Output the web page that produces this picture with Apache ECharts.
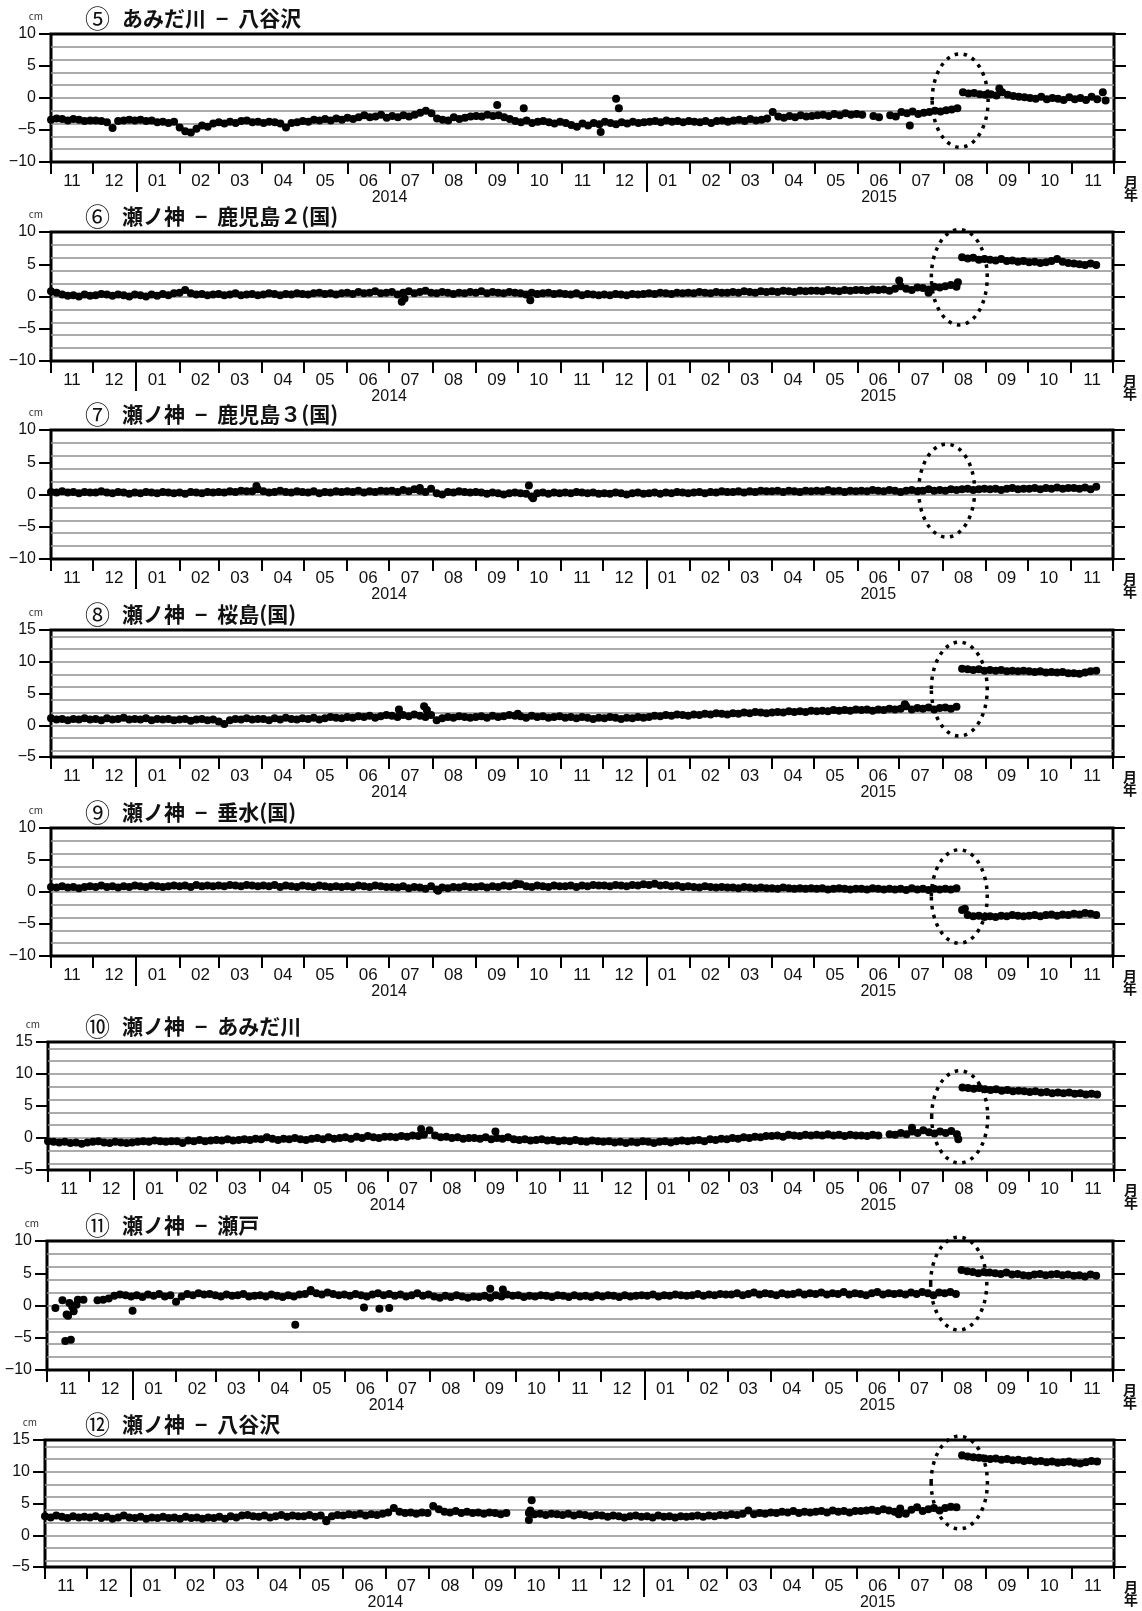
<!DOCTYPE html>
<html>
<head>
<meta charset="utf-8">
<script src="https://cdn.jsdelivr.net/npm/echarts@6/dist/echarts.min.js"></script>
<style>
  html, body { margin: 0; padding: 0; background: #fff; }
  #chart { width: 1142px; height: 1611px; }
</style>
</head>
<body>
<div id="chart"></div>
<script>
// ---- data (cm), one sample every 4 days starting 2013-11-01 ----
const startDate = "2013-11-01";
const endDate = "2015-12-01";
const sampleStep = 4;

const titleNums = ["⑤", "⑥", "⑦", "⑧", "⑨", "⑩", "⑪", "⑫"];
const titlePairs = [
  ["あみだ川", "八谷沢"],
  ["瀬ノ神", "鹿児島２(国)"],
  ["瀬ノ神", "鹿児島３(国)"],
  ["瀬ノ神", "桜島(国)"],
  ["瀬ノ神", "垂水(国)"],
  ["瀬ノ神", "あみだ川"],
  ["瀬ノ神", "瀬戸"],
  ["瀬ノ神", "八谷沢"],
];
const yRanges = [[-10, 10], [-10, 10], [-10, 10], [-5, 15], [-10, 10], [-5, 15], [-10, 10], [-5, 15]];
const gridValuesA = [-8, -6, -4, -2, 0, 2, 4, 6, 8];
const gridValuesB = [-4, -2, 0, 2, 4, 6, 8, 10, 12, 14];
const yearLabels = [["2014-07-01", "2014"], ["2015-06-16", "2015"]];

// rows: Nov13 Dec Jan14 Feb Mar Apr May Jun Jul Aug Sep Oct Nov Dec Jan15 Feb Mar Apr May Jun Jul Aug Sep Oct Nov
const amidaYatanisawa = [
  -3.4, -3.2, -3.3, -3.5, -3.3, -3.4, -3.6, -3.5,
  -3.5, -3.6, -3.8, -4.7, -3.6, -3.5, -3.4, -3.5,
  -3.4, -3.6, -3.5, -3.8, -3.7, -3.9, -3.7,
  -4.6, -5.2, -5.4, -4.8, -4.3, -4.5, -4.0,
  -3.8, -4.0, -3.7, -3.9, -3.6, -3.5, -3.8, -3.7,
  -3.9, -3.7, -3.8, -4.0, -4.6, -3.9, -3.8, -3.6,
  -3.7, -3.4, -3.5, -3.3, -3.5, -3.2, -3.4,
  -3.1, -3.3, -3.0, -2.7, -3.0, -2.9, -2.6, -3.1,
  -2.8, -3.0, -2.7, -2.9, -2.6, -2.3, -2.0, -2.4,
  -3.2, -3.4, -3.5, -3.0, -3.3, -3.1, -2.9,
  -2.8, -2.9, -2.6, -2.8, -2.7, -3.0, -3.3, -3.6,
  -3.8, -3.5, -3.9, -3.7, -3.6, -3.8, -4.0, -3.7,
  -3.9, -4.2, -4.5, -4.0, -4.3, -3.9, -4.1,
  -3.7, -3.9, -4.1, -3.8, -4.0, -3.7, -3.9, -3.8,
  -3.7, -3.6, -3.8, -3.5, -3.7, -3.6, -3.8, -3.6,
  -3.7, -3.8, -3.6, -3.9, -3.6, -3.5, -3.7,
  -3.5, -3.4, -3.6, -3.3, -3.5, -3.4, -3.2,
  -2.2, -2.9, -3.1, -2.8, -3.0, -2.7, -2.9, -2.8,
  -2.7, -2.6, -2.8, -2.5, -2.7, -2.4, -2.6, -2.5,
  -2.6, null, -2.8, -3.0, null, -2.7, -2.9,
  -2.2, -2.4, -2.1, -2.5, -2.3, -2.2, -2.0, -2.1,
  -1.9, -1.8, -1.6, 0.9, 0.7, 0.8, 0.6, 0.5,
  0.6, 0.4, 0.9, 0.5, 0.3, 0.2, 0.1,
  0.0, -0.1, 0.2, -0.2, 0.0, -0.1, -0.3, 0.1,
  -0.2, 0.0, -0.3, 0.2, -0.2,
];
const amidaYatanisawaExtra = [
  ["2014-09-16", -1.1], ["2014-10-05", -1.6], ["2014-11-29", -5.3],
  ["2014-12-10", -0.1], ["2014-12-12", -1.6], ["2015-07-08", -4.3],
  ["2015-09-10", 1.5], ["2015-11-23", 0.9], ["2015-11-25", -0.4],
];

const senokamiKagoshima2 = [
  0.8, 0.6, 0.3, 0.1, 0.2, 0.0, 0.3, 0.1,
  0.2, 0.4, 0.3, 0.1, 0.3, 0.2, 0.0, 0.3,
  0.2, 0.0, 0.3, 0.1, 0.4, 0.2, 0.5,
  0.6, 1.0, 0.5, 0.3, 0.4, 0.2, 0.3,
  0.4, 0.2, 0.3, 0.5, 0.2, 0.3, 0.4, 0.2,
  0.3, 0.5, 0.4, 0.2, 0.4, 0.3, 0.5, 0.4,
  0.3, 0.5, 0.6, 0.4, 0.5, 0.3, 0.5,
  0.6, 0.4, 0.7, 0.5, 0.6, 0.8, 0.5, 0.6,
  0.7, 0.3, 0.6, 0.8, 0.5, 0.7, 0.9, 0.6,
  0.5, 0.7, 0.6, 0.4, 0.6, 0.5, 0.7,
  0.6, 0.8, 0.5, 0.7, 0.6, 0.5, 0.7, 0.6,
  0.5, 0.3, 0.6, 0.4, 0.5, 0.6, 0.4, 0.5,
  0.4, 0.3, 0.5, 0.2, 0.4, 0.3, 0.2,
  0.3, 0.2, 0.4, 0.3, 0.2, 0.4, 0.3, 0.4,
  0.5, 0.4, 0.6, 0.5, 0.4, 0.6, 0.5, 0.6,
  0.5, 0.7, 0.6, 0.5, 0.7, 0.6, 0.6,
  0.7, 0.6, 0.8, 0.7, 0.6, 0.8, 0.7,
  0.8, 0.7, 0.9, 0.8, 0.7, 0.9, 0.8, 0.9,
  0.9, 0.8, 1.0, 0.9, 0.8, 1.0, 0.9, 1.0,
  1.0, 0.9, 1.1, 1.0, 1.1, 0.9, 1.2,
  1.6, 1.2, 1.0, 1.4, 1.3, 1.1, 1.5, 1.4,
  1.6, 1.8, 1.5, 6.1, 5.9, 6.0, 5.7, 5.8,
  5.7, 5.6, 5.8, 5.5, 5.6, 5.4, 5.5,
  5.3, 5.4, 5.2, 5.3, 5.5, 5.8, 5.4, 5.2,
  5.1, 5.0, 4.9, 5.1, 4.9,
];
const senokamiKagoshima2Extra = [
  ["2014-07-10", -0.8], ["2014-07-12", -0.3], ["2014-10-10", -0.6],
  ["2015-07-01", 2.5], ["2015-07-22", 0.6], ["2015-08-12", 2.2],
];

const senokamiKagoshima3 = [
  0.4, 0.3, 0.5, 0.3, 0.4, 0.2, 0.4, 0.3,
  0.3, 0.5, 0.3, 0.2, 0.4, 0.3, 0.1, 0.3,
  0.2, 0.4, 0.3, 0.2, 0.4, 0.3, 0.2,
  0.3, 0.1, 0.4, 0.3, 0.2, 0.4, 0.3,
  0.4, 0.3, 0.5, 0.4, 0.6, 0.5, 0.5, 0.8,
  0.5, 0.3, 0.4, 0.6, 0.4, 0.3, 0.5, 0.4,
  0.3, 0.5, 0.2, 0.4, 0.3, 0.5, 0.4,
  0.5, 0.4, 0.6, 0.3, 0.5, 0.4, 0.6, 0.5,
  0.6, 0.4, 0.7, 0.5, 0.8, 0.6, 0.4, 0.9,
  0.2, 0.0, 0.4, 0.3, 0.5, 0.4, 0.3,
  0.4, 0.3, 0.1, 0.3, 0.2, 0.0, 0.2, 0.3,
  0.2, 0.1, -0.3, 0.2, 0.3, 0.1, 0.3, 0.2,
  0.3, 0.2, 0.4, 0.3, 0.2, 0.3, 0.1,
  0.2, 0.1, 0.3, 0.2, 0.0, 0.2, 0.3, 0.1,
  0.2, 0.3, 0.1, 0.3, 0.2, 0.4, 0.3, 0.2,
  0.3, 0.4, 0.2, 0.4, 0.3, 0.5, 0.4,
  0.4, 0.5, 0.3, 0.5, 0.4, 0.6, 0.5,
  0.5, 0.6, 0.4, 0.6, 0.5, 0.4, 0.6, 0.5,
  0.6, 0.5, 0.7, 0.5, 0.6, 0.4, 0.6, 0.5,
  0.6, 0.5, 0.7, 0.6, 0.5, 0.7, 0.6,
  0.4, 0.6, 0.7, 0.5, 0.6, 0.8, 0.6, 0.7,
  0.6, 0.8, 0.7, 0.8, 0.9, 0.7, 0.8, 0.9,
  0.8, 0.9, 0.7, 0.9, 1.0, 0.8, 0.9,
  0.9, 1.0, 0.8, 1.0, 0.9, 1.1, 0.9, 1.0,
  1.0, 0.9, 1.1, 0.8, 1.2,
];
const senokamiKagoshima3Extra = [
  ["2014-03-28", 1.3], ["2014-07-23", 1.0], ["2014-10-09", 1.4], ["2014-10-12", -0.6],
];

const senokamiSakurajima = [
  1.1, 0.9, 1.0, 0.8, 1.0, 0.9, 1.1, 0.9,
  1.0, 0.8, 1.1, 0.9, 1.0, 1.2, 0.9, 1.0,
  0.9, 1.1, 0.8, 1.0, 0.9, 1.0, 0.8,
  0.9, 1.0, 0.7, 0.9, 1.0, 0.8, 0.9,
  0.6, 0.2, 0.8, 1.0, 0.9, 1.1, 0.9, 1.0,
  1.0, 0.8, 1.1, 0.9, 1.2, 1.0, 0.9, 1.1,
  1.0, 1.2, 0.9, 1.1, 1.3, 1.2, 1.1,
  1.3, 1.2, 1.4, 1.3, 1.5, 1.2, 1.4, 1.6,
  1.5, 1.3, 1.6, 1.4, 1.7, 1.5, 1.3, 1.6,
  0.8, 1.1, 1.3, 1.2, 1.4, 1.3, 1.2,
  1.3, 1.4, 1.2, 1.5, 1.3, 1.4, 1.6, 1.5,
  1.4, 1.2, 1.5, 1.3, 1.4, 1.2, 1.3, 1.4,
  1.2, 1.3, 1.1, 1.3, 1.2, 1.0, 1.2,
  1.1, 1.3, 1.2, 1.0, 1.2, 1.1, 1.3, 1.2,
  1.3, 1.5, 1.4, 1.6, 1.5, 1.7, 1.6, 1.5,
  1.7, 1.6, 1.8, 1.7, 1.9, 1.8, 1.7,
  1.9, 1.8, 2.0, 1.9, 2.1, 2.0, 1.9,
  2.0, 2.1, 2.0, 2.2, 2.1, 2.2, 2.1, 2.3,
  2.2, 2.3, 2.2, 2.4, 2.3, 2.4, 2.3, 2.5,
  2.4, 2.5, 2.3, 2.5, 2.4, 2.6, 2.5,
  2.6, 3.0, 2.5, 2.7, 2.6, 2.8, 2.5, 2.7,
  2.8, 2.6, 2.9, 8.9, 8.8, 8.7, 8.8, 8.6,
  8.7, 8.6, 8.7, 8.5, 8.6, 8.5, 8.6,
  8.5, 8.4, 8.5, 8.3, 8.4, 8.3, 8.4, 8.2,
  8.2, 8.1, 8.3, 8.5, 8.6,
];
const senokamiSakurajimaExtra = [
  ["2014-07-08", 2.5], ["2014-07-26", 3.0], ["2014-07-28", 2.4],
  ["2014-10-01", 1.8], ["2015-07-05", 3.3],
];

const senokamiTarumizu = [
  0.8, 0.7, 0.9, 0.7, 0.8, 0.6, 0.8, 0.9,
  0.8, 1.0, 0.8, 0.9, 0.7, 0.9, 0.8, 1.0,
  0.9, 0.8, 1.0, 0.9, 0.8, 0.9, 1.0,
  0.9, 1.0, 0.8, 1.1, 0.9, 1.0, 0.9,
  1.0, 0.9, 1.1, 1.0, 0.9, 1.1, 1.0, 0.9,
  1.0, 0.9, 1.1, 0.8, 1.0, 0.9, 0.8, 1.0,
  0.9, 0.8, 1.0, 0.9, 0.8, 0.9, 0.8,
  0.9, 0.8, 1.0, 0.9, 0.8, 1.0, 0.9, 0.8,
  0.8, 0.7, 0.9, 0.6, 0.8, 0.7, 0.5, 0.9,
  0.4, 0.7, 0.6, 0.8, 0.7, 0.9, 0.8,
  0.8, 0.9, 0.7, 0.9, 0.8, 1.0, 0.9, 1.1,
  1.2, 0.9, 0.8, 1.0, 0.9, 0.8, 1.0, 0.9,
  0.9, 1.0, 0.8, 1.0, 0.9, 1.1, 1.0,
  1.0, 0.9, 1.1, 1.0, 0.9, 1.1, 1.0, 1.2,
  1.1, 1.3, 1.0, 1.1, 0.9, 1.0, 0.8, 0.9,
  0.8, 0.7, 0.9, 0.8, 0.7, 0.8, 0.7,
  0.7, 0.6, 0.8, 0.7, 0.6, 0.7, 0.6,
  0.6, 0.5, 0.7, 0.6, 0.5, 0.6, 0.5, 0.6,
  0.5, 0.6, 0.4, 0.5, 0.6, 0.5, 0.4, 0.5,
  0.5, 0.4, 0.6, 0.5, 0.4, 0.5, 0.4,
  0.5, 0.3, 0.6, 0.4, 0.5, 0.3, 0.5, 0.4,
  0.5, 0.4, 0.6, -2.8, -3.6, -3.8, -3.7, -3.9,
  -3.8, -3.9, -3.7, -3.8, -3.6, -3.7, -3.8,
  -3.7, -3.6, -3.8, -3.6, -3.5, -3.7, -3.5, -3.6,
  -3.4, -3.5, -3.3, -3.4, -3.6,
];
const senokamiTarumizuExtra = [
  ["2014-08-05", 0.2], ["2014-09-30", 1.3], ["2015-08-17", -2.6],
];

const senokamiAmida = [
  -0.5, -0.6, -0.7, -0.6, -0.8, -0.7, -0.9, -0.7,
  -0.6, -0.5, -0.7, -0.8, -0.6, -0.7, -0.8, -0.7,
  -0.6, -0.5, -0.6, -0.4, -0.5, -0.6, -0.5,
  -0.5, -0.8, -0.4, -0.5, -0.3, -0.5, -0.4,
  -0.3, -0.4, -0.2, -0.4, -0.3, -0.2, -0.3, -0.1,
  -0.2, 0.1, -0.1, -0.3, -0.1, -0.2, 0.0, -0.2,
  -0.3, -0.1, 0.0, -0.2, 0.1, -0.1, 0.0,
  0.1, -0.1, 0.2, 0.0, 0.3, 0.1, 0.0, 0.2,
  0.2, 0.1, 0.3, 0.2, 0.4, 0.3, 0.5, 1.2,
  0.4, 0.1, 0.2, 0.0, 0.1, -0.1, 0.0,
  0.0, -0.1, 0.1, -0.2, 0.0, -0.1, 0.1, -0.2,
  -0.3, -0.2, -0.4, -0.3, -0.2, -0.4, -0.3, -0.5,
  -0.4, -0.5, -0.3, -0.5, -0.6, -0.4, -0.5,
  -0.6, -0.5, -0.7, -0.6, -0.8, -0.6, -0.7, -0.5,
  -0.6, -0.8, -0.6, -0.5, -0.7, -0.5, -0.4, -0.5,
  -0.4, -0.3, -0.5, -0.2, -0.3, -0.1, -0.2,
  0.0, -0.1, 0.1, 0.0, 0.2, 0.1, 0.3,
  0.3, 0.4, 0.2, 0.5, 0.4, 0.3, 0.5, 0.4,
  0.5, 0.4, 0.6, 0.4, 0.5, 0.3, 0.5, 0.4,
  0.4, 0.3, 0.5, 0.4, null, 0.6, 0.5,
  0.8, 0.6, 1.0, 0.8, 1.2, 0.9, 0.7, 1.0,
  0.8, 1.1, 0.6, 7.9, 7.8, 7.7, 7.8, 7.6,
  7.5, 7.6, 7.4, 7.5, 7.3, 7.4, 7.3,
  7.2, 7.3, 7.1, 7.2, 7.0, 7.1, 7.0, 7.1,
  6.9, 7.0, 6.8, 6.9, 6.8,
];
const senokamiAmidaExtra = [
  ["2014-07-25", 1.4], ["2014-09-16", 1.0], ["2015-07-10", 1.6], ["2015-08-12", -0.2],
];

const senokamiSeto = [
  null, null, null, null, null, null, null, null,
  null, 0.8, 0.9, 1.1, 1.5, 1.7, 1.6, 1.4,
  1.6, 1.3, 1.7, 1.5, 1.8, 1.4, 1.6,
  0.6, 1.4, 1.8, 1.6, 1.9, 1.7, 1.8,
  1.6, 1.4, 1.7, 1.5, 1.6, 1.8, 1.4, 1.5,
  1.6, 1.4, 1.7, 1.5, 1.3, 1.6, 1.4, 1.7,
  1.8, 2.2, 1.9, 1.7, 2.0, 1.8, 1.6,
  1.7, 1.5, 1.8, 1.6, 1.4, 1.7, 1.9, 1.6,
  1.8, 1.5, 1.7, 1.4, 1.6, 1.9, 1.5, 1.7,
  1.4, 1.2, 1.5, 1.3, 1.6, 1.4, 1.2,
  1.4, 1.3, 1.5, 1.2, 1.6, 1.4, 1.7, 1.5,
  1.6, 1.3, 1.5, 1.4, 1.6, 1.5, 1.3, 1.6,
  1.5, 1.3, 1.6, 1.4, 1.5, 1.3, 1.6,
  1.4, 1.6, 1.5, 1.3, 1.6, 1.4, 1.5, 1.6,
  1.5, 1.7, 1.4, 1.6, 1.5, 1.7, 1.6, 1.5,
  1.6, 1.8, 1.5, 1.7, 1.6, 1.8, 1.7,
  1.7, 1.9, 1.6, 1.8, 2.0, 1.7, 1.9,
  1.8, 1.6, 1.9, 1.7, 1.8, 2.0, 1.7, 1.9,
  1.8, 2.0, 1.7, 1.9, 1.8, 2.1, 1.7, 1.9,
  1.8, 1.6, 1.9, 2.1, 1.7, 1.9, 1.8,
  1.9, 1.7, 2.0, 1.8, 2.1, 1.9, 1.6, 2.0,
  1.9, 2.1, 1.8, 5.5, 5.3, 5.2, 5.0, 5.2,
  5.1, 5.0, 4.9, 5.1, 4.8, 4.9, 4.7,
  4.6, 4.8, 4.9, 4.7, 4.8, 4.9, 4.7, 4.8,
  4.6, 4.7, 4.5, 4.8, 4.6,
];
const senokamiSetoExtra = [
  ["2013-11-07", -0.4], ["2013-11-12", 0.8], ["2013-11-14", -5.5], ["2013-11-15", -1.4],
  ["2013-11-16", -1.6], ["2013-11-17", 0.4], ["2013-11-18", -5.3], ["2013-11-19", -0.2],
  ["2013-11-20", -0.9], ["2013-11-22", 0.1], ["2013-11-23", 0.9], ["2013-11-27", 0.9],
  ["2014-01-01", -0.8], ["2014-04-27", -3.0], ["2014-05-08", 2.4], ["2014-06-15", -0.3],
  ["2014-06-26", -0.5], ["2014-07-03", -0.4], ["2014-09-13", 2.6], ["2014-09-22", 2.5],
];

const senokamiYatanisawa = [
  3.0, 2.8, 3.1, 2.9, 2.7, 3.0, 2.8, 2.9,
  2.8, 3.0, 2.7, 2.9, 2.6, 2.8, 3.1, 2.8,
  2.7, 2.9, 2.6, 2.8, 2.7, 2.9, 2.7,
  2.8, 2.6, 2.9, 2.7, 2.8, 2.6, 2.8,
  2.7, 2.9, 2.6, 3.0, 2.8, 3.1, 3.2, 3.0,
  2.9, 3.1, 2.8, 3.0, 3.2, 2.9, 3.1, 3.0,
  3.0, 3.2, 2.9, 3.1, 2.4, 3.0, 3.2,
  3.1, 3.3, 3.2, 3.4, 3.1, 3.3, 3.2, 3.4,
  3.6, 4.3, 3.7, 3.5, 3.6, 3.4, 3.6, 3.5,
  4.6, 4.1, 3.7, 3.6, 3.8, 3.5, 3.7,
  3.5, 3.6, 3.4, 3.6, 3.5, 3.3, 3.5, null,
  null, null, 3.5, 3.3, 3.4, 3.2, 3.4, 3.3,
  3.2, 3.4, 3.1, 3.3, 3.2, 3.0, 3.2,
  3.1, 2.9, 3.1, 3.0, 2.8, 3.0, 3.1, 2.9,
  3.0, 2.8, 3.1, 2.9, 3.0, 2.8, 3.0, 2.9,
  3.0, 3.1, 2.9, 3.1, 3.0, 3.2, 3.1,
  3.3, 3.2, 3.4, 3.9, 3.3, 3.5, 3.4,
  3.6, 3.5, 3.7, 3.6, 3.8, 3.5, 3.7, 3.6,
  3.7, 3.8, 3.6, 3.9, 3.7, 3.8, 3.6, 3.8,
  3.8, 3.9, 4.0, 3.8, 4.1, 3.9, 3.7,
  4.2, 3.4, 4.0, 4.4, 3.8, 4.1, 4.3, 3.9,
  4.3, 4.5, 4.4, 12.6, 12.4, 12.3, 12.2, 12.1,
  12.0, 12.1, 11.9, 12.0, 11.8, 11.9, 11.7,
  11.8, 11.6, 11.7, 11.5, 11.6, 11.4, 11.5, 11.6,
  11.4, 11.3, 11.5, 11.7, 11.6,
];
const senokamiYatanisawaExtra = [
  ["2014-05-20", 2.2], ["2014-10-11", 2.4], ["2014-10-12", 3.9], ["2014-10-13", 5.5],
  ["2015-07-01", 3.3],
];

// dotted ellipse around the 2015-08-15 step: [centre date, centre cm, half height cm, half width days]
const ellipses = [
  ["2015-08-13", -0.4, 7.3, 20],
  ["2015-08-13", 3.0, 7.4, 20],
  ["2015-08-04", 0.6, 7.2, 20],
  ["2015-08-13", 5.7, 7.4, 20],
  ["2015-08-13", -0.7, 7.3, 20],
  ["2015-08-13", 3.3, 7.2, 20],
  ["2015-08-13", 3.4, 7.2, 20],
  ["2015-08-13", 8.3, 7.3, 20],
];

const mainSeries = [amidaYatanisawa, senokamiKagoshima2, senokamiKagoshima3, senokamiSakurajima,
  senokamiTarumizu, senokamiAmida, senokamiSeto, senokamiYatanisawa];
const extraSeries = [amidaYatanisawaExtra, senokamiKagoshima2Extra, senokamiKagoshima3Extra, senokamiSakurajimaExtra,
  senokamiTarumizuExtra, senokamiAmidaExtra, senokamiSetoExtra, senokamiYatanisawaExtra];

// ---- layout ----
const panelTop = [34, 232, 430, 630, 828, 1042, 1241, 1440];
const panelHeight = [128, 129, 129, 127, 128, 128, 129, 129];
const panelLeft = [51, 51, 51, 51, 51, 48, 47, 45];
const panelRightEdge = [1114, 1113, 1113, 1113, 1113, 1114, 1113, 1114];

const numFont = "'Liberation Sans', Arial, sans-serif";
const jpFont = "'Noto Sans CJK JP', sans-serif";

function buildDays(start, end) {
  const out = [];
  const d = new Date(start + "T00:00:00Z");
  const last = new Date(end + "T00:00:00Z");
  while (d <= last) {
    out.push(d.toISOString().slice(0, 10));
    d.setUTCDate(d.getUTCDate() + 1);
  }
  return out;
}
const days = buildDays(startDate, endDate);
const yearMap = {};
yearLabels.forEach(([d, t]) => (yearMap[d] = t));

const chart = echarts.init(document.getElementById("chart"));

const grid = [], xAxis = [], yAxis = [], series = [], title = [];

titleNums.forEach((num, k) => {
  const [ymin, ymax] = yRanges[k];
  const vals = mainSeries[k];
  if (vals.length !== 188) console.warn("panel", k, "has", vals.length, "samples");
  const data = [];
  vals.forEach((v, i) => {
    if (v !== null) data.push([days[i * sampleStep], v]);
  });
  extraSeries[k].forEach((p) => data.push(p));

  grid.push({
    left: panelLeft[k],
    top: panelTop[k],
    width: panelRightEdge[k] - panelLeft[k],
    height: panelHeight[k],
    show: true,
    borderColor: "#000",
    borderWidth: 3,
  });

  const [a, b] = titlePairs[k];
  title.push({
    text: `{n|${num}}{t|${a}}{d|–}{t|${b}}`,
    left: 85,
    top: panelTop[k] - 28,
    padding: 0,
    textStyle: {
      fontFamily: jpFont,
      fontSize: 21,
      fontWeight: "bold",
      color: "#111",
      rich: {
        n: { fontFamily: jpFont, fontSize: 25, fontWeight: "normal", color: "#111", verticalAlign: "middle", padding: [0, 12, 0, 0] },
        t: { fontFamily: jpFont, fontSize: 21, fontWeight: "bold", color: "#111", verticalAlign: "middle" },
        d: { fontFamily: numFont, fontSize: 22, fontWeight: "bold", color: "#111", verticalAlign: "middle", padding: [0, 10, 0, 10] },
      },
    },
  });

  // month ticks + labels
  xAxis.push({
    type: "category",
    gridIndex: k,
    position: "bottom",
    data: days,
    boundaryGap: false,
    axisLine: { show: false, onZero: false },
    axisTick: {
      interval: (i, v) => v.slice(8) === "01",
      length: 12,
      lineStyle: { color: "#000", width: 2 },
    },
    axisLabel: {
      interval: (i, v) => v.slice(8) === "16",
      formatter: (v) => v.slice(5, 7),
      margin: 11,
      color: "#111",
      fontFamily: numFont,
      fontSize: 17,
    },
    splitLine: { show: false },
    name: "月\n年",
    nameLocation: "end",
    nameGap: 10,
    nameTextStyle: {
      fontFamily: jpFont,
      fontSize: 14,
      lineHeight: 13,
      fontWeight: "bold",
      color: "#111",
      verticalAlign: "top",
      padding: [13, 0, 0, 0],
    },
  });
  // long tick at the year boundary
  xAxis.push({
    type: "category",
    gridIndex: k,
    position: "bottom",
    data: days,
    boundaryGap: false,
    axisLine: { show: false, onZero: false },
    axisTick: {
      interval: (i, v) => v.slice(5) === "01-01",
      length: 30,
      lineStyle: { color: "#000", width: 2 },
    },
    axisLabel: { show: false },
    splitLine: { show: false },
  });
  // year labels
  xAxis.push({
    type: "category",
    gridIndex: k,
    position: "bottom",
    data: days,
    boundaryGap: false,
    axisLine: { show: false, onZero: false },
    axisTick: { show: false },
    axisLabel: {
      interval: (i, v) => yearMap[v] !== undefined,
      formatter: (v) => yearMap[v] || "",
      margin: 28,
      color: "#111",
      fontFamily: numFont,
      fontSize: 16,
    },
    splitLine: { show: false },
  });

  yAxis.push({
    type: "value",
    gridIndex: k,
    position: "left",
    min: ymin,
    max: ymax,
    interval: 5,
    axisLine: { show: false, onZero: false },
    axisTick: { show: true, length: 12, lineStyle: { color: "#000", width: 2 } },
    axisLabel: {
      margin: 15,
      color: "#111",
      fontFamily: numFont,
      fontSize: 16,
      formatter: (v) => (v < 0 ? "−" + Math.abs(v) : String(v)),
    },
    splitLine: { show: false },
    name: "cm",
    nameLocation: "end",
    nameGap: 13,
    nameTextStyle: { fontFamily: jpFont, fontSize: 10, color: "#333", align: "right", padding: [0, 8, 0, 0] },
  });
  yAxis.push({
    type: "value",
    gridIndex: k,
    position: "right",
    min: ymin,
    max: ymax,
    interval: 5,
    axisLine: { show: false, onZero: false },
    axisTick: { show: true, length: 12, lineStyle: { color: "#000", width: 2 } },
    axisLabel: { show: false },
    splitLine: { show: false },
  });

  const gv = ymin === -5 ? gridValuesB : gridValuesA;
  series.push({
    type: "scatter",
    xAxisIndex: 3 * k,
    yAxisIndex: 2 * k,
    data: data,
    symbol: "circle",
    symbolSize: 8,
    itemStyle: { color: "#000", opacity: 1 },
    z: 3,
    silent: true,
    markLine: {
      silent: true,
      z: 1,
      symbol: ["none", "none"],
      label: { show: false },
      lineStyle: { color: "#8f8f8f", width: 1.6, type: "solid" },
      data: gv.map((v) => ({ yAxis: v })),
    },
  });
});

chart.setOption({
  backgroundColor: "#fff",
  animation: false,
  title,
  grid,
  xAxis,
  yAxis,
  series,
});

// dotted ellipses, placed through the panel scales
const graphic = ellipses.map(([d, v, hh, hd], k) => {
  const idx = days.indexOf(d);
  const c = chart.convertToPixel({ seriesIndex: k }, [idx, v]);
  const ex = chart.convertToPixel({ seriesIndex: k }, [idx + hd, v + hh]);
  return {
    type: "ellipse",
    silent: true,
    z: 20,
    shape: { cx: c[0], cy: c[1], rx: Math.abs(ex[0] - c[0]), ry: Math.abs(c[1] - ex[1]) },
    style: { fill: null, stroke: "#000", lineWidth: 3.5, lineDash: [3.5, 5.5] },
  };
});
chart.setOption({ graphic });
</script>
</body>
</html>
